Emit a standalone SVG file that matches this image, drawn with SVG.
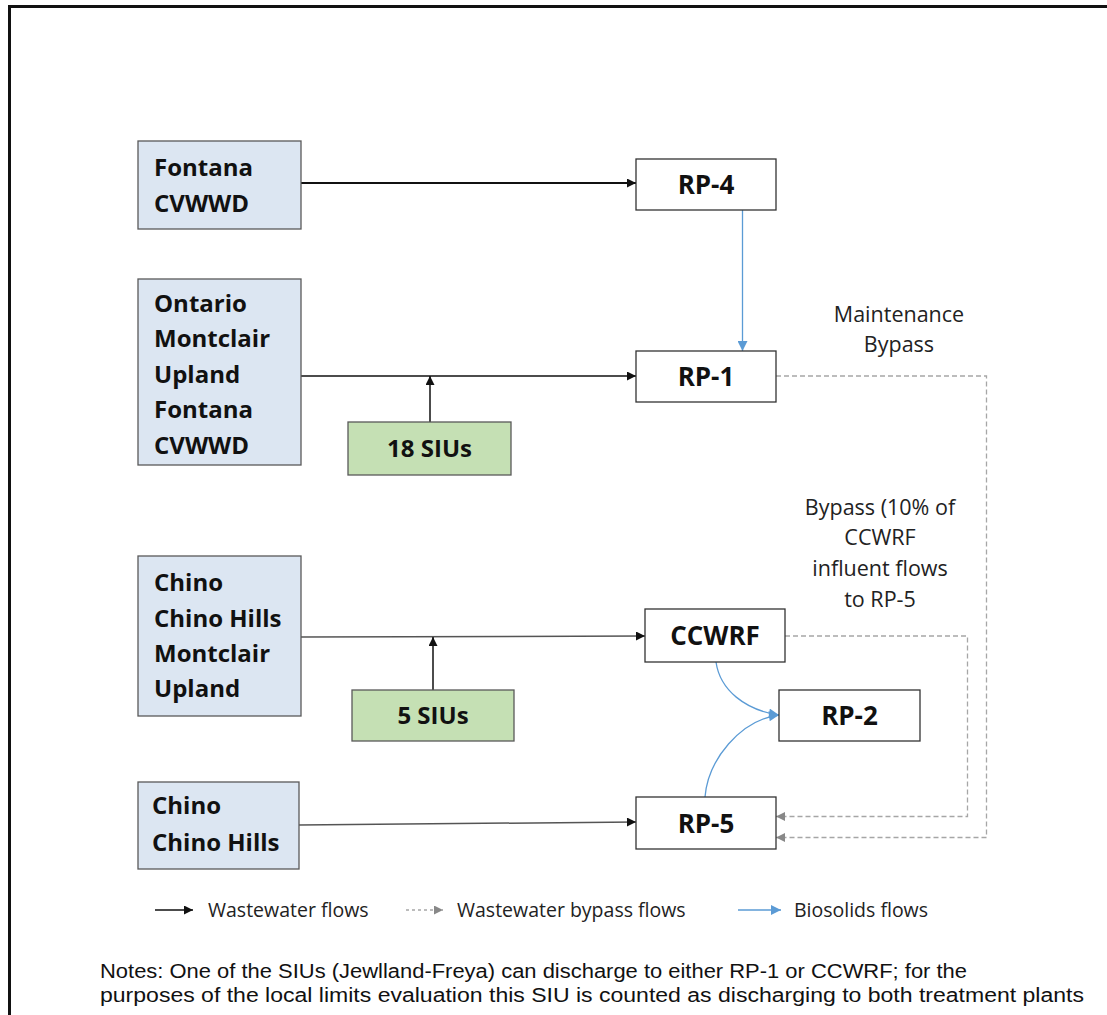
<svg xmlns="http://www.w3.org/2000/svg" width="1107" height="1015" viewBox="0 0 1107 1015">
<style>
.frame{fill:none;stroke:#111;stroke-width:3}
.src{fill:#dce6f2;stroke:#595959;stroke-width:1.3}
.siu{fill:#c5e0b4;stroke:#595959;stroke-width:1.3}
.plant{fill:#fff;stroke:#333;stroke-width:1.3}
.bt{font-family:"Open Sans",Lato,"Liberation Sans",sans-serif;font-weight:bold;font-size:24px;fill:#111}
.pt{font-family:"Open Sans",Lato,"Liberation Sans",sans-serif;font-weight:bold;font-size:26px;fill:#111;text-anchor:middle}
.lbl{font-family:"Open Sans",Lato,"Liberation Sans",sans-serif;font-size:21.5px;fill:#222;text-anchor:middle}
.leg{font-family:"Open Sans",Lato,"Liberation Sans",sans-serif;font-size:19.5px;fill:#222}
.note{font-family:"Liberation Sans",Arial,sans-serif;font-size:20px;fill:#111}
.ww{fill:none;stroke:#111;stroke-width:1.5}
.ww2{fill:none;stroke:#555;stroke-width:1.5}
.bp{fill:none;stroke:#a6a6a6;stroke-width:1.3;stroke-dasharray:5,3}
.bio{fill:none;stroke:#5b9bd5;stroke-width:1.3}
</style>
<defs>
<marker id="ab" viewBox="0 0 10 10" refX="10" refY="5" markerWidth="10" markerHeight="9" markerUnits="userSpaceOnUse" orient="auto"><path d="M0,0 L10,5 L0,10 z" fill="#111"/></marker>
<marker id="ag" viewBox="0 0 10 10" refX="10" refY="5" markerWidth="10" markerHeight="9" markerUnits="userSpaceOnUse" orient="auto"><path d="M0,0 L10,5 L0,10 z" fill="#888"/></marker>
<marker id="abl" viewBox="0 0 10 10" refX="10" refY="5" markerWidth="11" markerHeight="10" markerUnits="userSpaceOnUse" orient="auto"><path d="M0,0 L10,5 L0,10 z" fill="#5b9bd5"/></marker>
</defs>
<rect width="1107" height="1015" fill="#fff"/>
<rect class="frame" x="9.5" y="6.5" width="1120" height="1040"/>

<g id="connectors">
<line class="ww" x1="301" y1="183" x2="636" y2="183" marker-end="url(#ab)" style="stroke-width:2"/>
<line class="ww" x1="301" y1="376" x2="636" y2="376" marker-end="url(#ab)"/>
<line class="ww" x1="430" y1="422" x2="430" y2="376" marker-end="url(#ab)"/>
<line class="ww2" x1="301" y1="637" x2="645" y2="636" marker-end="url(#ab)"/>
<line class="ww" x1="433" y1="690" x2="433" y2="637" marker-end="url(#ab)"/>
<line class="ww2" x1="299" y1="825" x2="636" y2="822" marker-end="url(#ab)"/>
<line class="bio" x1="742.5" y1="210" x2="742.5" y2="351" marker-end="url(#abl)"/>
<path class="bio" d="M716,662 C720,690 745,710 779,715" marker-end="url(#abl)"/>
<path class="bio" d="M705,797 C708,760 740,720 779,715" marker-end="url(#abl)"/>
<path class="bp" d="M776,376 H986.5 V837.5 H776" marker-end="url(#ag)"/>
<path class="bp" d="M785,636 H967.5 V816.5 H776" marker-end="url(#ag)"/>
</g>

<g id="n-fontana">
<rect class="src" x="138" y="141" width="163" height="88"/>
<text class="bt" x="154" y="176">Fontana</text>
<text class="bt" x="154" y="212">CVWWD</text>
</g>
<g id="n-ontario">
<rect class="src" x="138" y="279" width="163" height="186"/>
<text class="bt" x="154" y="312">Ontario</text>
<text class="bt" x="154" y="347">Montclair</text>
<text class="bt" x="154" y="383">Upland</text>
<text class="bt" x="154" y="418">Fontana</text>
<text class="bt" x="154" y="454">CVWWD</text>
</g>
<g id="n-chino1">
<rect class="src" x="138" y="556" width="163" height="160"/>
<text class="bt" x="154" y="591">Chino</text>
<text class="bt" x="154" y="627">Chino Hills</text>
<text class="bt" x="154" y="662">Montclair</text>
<text class="bt" x="154" y="697">Upland</text>
</g>
<g id="n-chino2">
<rect class="src" x="138" y="782" width="161" height="87"/>
<text class="bt" x="152" y="814">Chino</text>
<text class="bt" x="152" y="851">Chino Hills</text>
</g>
<g id="n-siu18">
<rect class="siu" x="348" y="422" width="163" height="53"/>
<text class="bt" x="429.5" y="457" text-anchor="middle">18 SIUs</text>
</g>
<g id="n-siu5">
<rect class="siu" x="352" y="690" width="162" height="51"/>
<text class="bt" x="433" y="724" text-anchor="middle">5 SIUs</text>
</g>
<g id="n-rp4">
<rect class="plant" x="636" y="159" width="140" height="51"/>
<text class="pt" x="706" y="194">RP-4</text>
</g>
<g id="n-rp1">
<rect class="plant" x="636" y="351" width="140" height="51"/>
<text class="pt" x="706" y="386">RP-1</text>
</g>
<g id="n-ccwrf">
<rect class="plant" x="645" y="609" width="140" height="53"/>
<text class="pt" x="715" y="645">CCWRF</text>
</g>
<g id="n-rp2">
<rect class="plant" x="779" y="690" width="141" height="51"/>
<text class="pt" x="849.5" y="725">RP-2</text>
</g>
<g id="n-rp5">
<rect class="plant" x="636" y="797" width="140" height="52"/>
<text class="pt" x="706" y="833">RP-5</text>
</g>

<g id="labels">
<text class="lbl" x="899" y="322">Maintenance</text>
<text class="lbl" x="899" y="352">Bypass</text>
<text class="lbl" x="880" y="515">Bypass (10% of</text>
<text class="lbl" x="880" y="545">CCWRF</text>
<text class="lbl" x="880" y="576">influent flows</text>
<text class="lbl" x="880" y="607">to RP-5</text>
</g>

<g id="legend">
<line class="ww" x1="155" y1="910" x2="193" y2="910" marker-end="url(#ab)"/>
<text class="leg" x="208" y="917">Wastewater flows</text>
<line class="bp" x1="406" y1="910" x2="443" y2="910" marker-end="url(#ag)" style="stroke-dasharray:3,3"/>
<text class="leg" x="457" y="917">Wastewater bypass flows</text>
<line class="bio" x1="738" y1="910" x2="781" y2="910" marker-end="url(#abl)"/>
<text class="leg" x="794" y="917">Biosolids flows</text>
</g>

<g id="notes">
<text class="note" x="100" y="978" textLength="867" lengthAdjust="spacingAndGlyphs">Notes: One of the SIUs (Jewlland-Freya) can discharge to either RP-1 or CCWRF; for the</text>
<text class="note" x="100" y="1002" textLength="984" lengthAdjust="spacingAndGlyphs">purposes of the local limits evaluation this SIU is counted as discharging to both treatment plants</text>
</g>
</svg>
